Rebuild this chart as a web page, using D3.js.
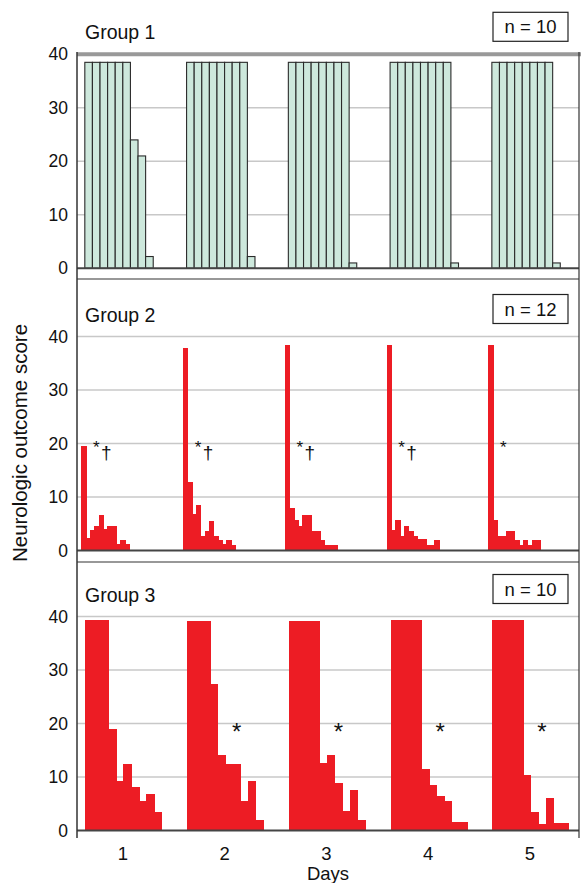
<!DOCTYPE html>
<html><head><meta charset="utf-8">
<script src="https://cdn.jsdelivr.net/npm/d3@7"></script>
<style>body{margin:0;background:#fff} text{font-family:"Liberation Sans",Arial,sans-serif;fill:#111}</style>
</head><body><svg id="c" width="581" height="883"></svg>
<script>
const days = [1, 2, 3, 4, 5];
const yTicks = [0, 10, 20, 30, 40];
const groupNames = ["Group 1", "Group 2", "Group 3"];
const groupN = ["n = 10", "n = 12", "n = 10"];
const group1Scores = [
  [38.5, 38.5, 38.5, 38.5, 38.5, 38.5, 24, 21, 2.2, 0],
  [38.5, 38.5, 38.5, 38.5, 38.5, 38.5, 38.5, 38.5, 2.2, 0],
  [38.5, 38.5, 38.5, 38.5, 38.5, 38.5, 38.5, 38.5, 1.0, 0],
  [38.5, 38.5, 38.5, 38.5, 38.5, 38.5, 38.5, 38.5, 1.0, 0],
  [38.5, 38.5, 38.5, 38.5, 38.5, 38.5, 38.5, 38.5, 1.0, 0]
];
const group2Scores = [
  [19.4, 2.3, 3.8, 4.4, 6.6, 4.0, 4.4, 4.4, 1.2, 1.8, 1.2, 0],
  [37.8, 12.7, 6.8, 8.4, 2.6, 3.5, 5.5, 2.7, 1.8, 1.2, 1.8, 1.0],
  [38.3, 7.8, 5.7, 4.5, 6.6, 6.6, 3.5, 3.5, 1.8, 1.0, 1.0, 1.0],
  [38.4, 3.8, 5.6, 2.6, 4.5, 3.6, 2.7, 2.0, 2.0, 1.0, 1.0, 1.8],
  [38.3, 5.6, 2.6, 2.6, 3.5, 3.5, 1.8, 0.9, 1.8, 0.9, 1.8, 1.8]
];
const group3Scores = [
  [39.3, 39.3, 39.3, 18.8, 9.2, 12.3, 8.0, 5.5, 6.7, 3.4],
  [39.0, 39.0, 39.0, 27.2, 14.0, 12.4, 12.4, 5.5, 9.1, 1.8],
  [39.0, 39.0, 39.0, 39.0, 12.6, 14.0, 8.8, 3.5, 7.5, 1.8],
  [39.3, 39.3, 39.3, 39.3, 11.4, 8.4, 6.3, 5.4, 1.5, 1.5],
  [39.3, 39.3, 39.3, 39.3, 10.3, 3.4, 1.2, 5.9, 1.3, 1.3]
];
const group2Marks = ["*†", "*†", "*†", "*†", "*"];
const group3Marks = ["", "*", "*", "*", "*"];

const svg = d3.select("#c");
const left = 77, right = 579;
const x = d3.scaleBand().domain(days).range([72.1, 580.9]).paddingInner(0.25).paddingOuter(0.125);

const RED = "#ed1c24";
const panels = [
  {scores: group1Scores, zero: 268.3, inner: [0, 76], fill: "#cde8dc", stroke: "#2a2a2a", sw: 1.1, crisp: false, marks: null},
  {scores: group2Scores, zero: 550.5, inner: [-3, 49], fill: RED, stroke: RED, sw: 1, crisp: true, marks: group2Marks},
  {scores: group3Scores, zero: 830.5, inner: [1, 77], fill: RED, stroke: RED, sw: 1, crisp: true, marks: group3Marks}
];
const plotH = 214;

panels.forEach((p, gi) => {
  const y = d3.scaleLinear().domain([0, 40]).range([p.zero, p.zero - plotH]);
  const g = svg.append("g");
  g.selectAll("line.grid").data(yTicks.filter(t => t > 0 && !(gi === 0 && t === 40))).enter()
    .append("line").attr("x1", left).attr("x2", right)
    .attr("y1", d => y(d)).attr("y2", d => y(d))
    .attr("stroke", "#c8c8c8").attr("stroke-width", 1.5);
  if (gi === 0) {
    g.append("line").attr("x1", left).attr("x2", 581).attr("y1", y(40)).attr("y2", y(40))
      .attr("stroke", "#999").attr("stroke-width", 4);
  }
  const n = p.scores[0].length;
  const inner = d3.scaleBand().domain(d3.range(n)).range(p.inner).padding(0);
  days.forEach((d, di) => {
    g.selectAll(null).data(p.scores[di]).enter().append("rect")
      .attr("x", (v, i) => x(d) + inner(i))
      .attr("width", inner.bandwidth())
      .attr("y", v => y(v))
      .attr("height", v => y(0) - y(v))
      .attr("fill", p.fill)
      .attr("stroke", v => v > 0 ? p.stroke : "none")
      .attr("stroke-width", p.sw)
      .attr("shape-rendering", p.crisp ? "crispEdges" : "auto");
  });
  const ax = g.append("g").attr("transform", `translate(${left},0)`)
    .call(d3.axisLeft(y).tickValues(yTicks).tickSize(0).tickPadding(9));
  ax.select(".domain").remove();
  ax.selectAll("text").attr("font-size", 17.5).style("font-family", '"Liberation Sans",Arial,sans-serif').attr("fill", "#111");
  g.append("line").attr("x1", left).attr("x2", right).attr("y1", y(0)).attr("y2", y(0))
    .attr("stroke", "#444").attr("stroke-width", 2);
  g.append("text").attr("x", 85).attr("y", p.zero - plotH - 15).attr("font-size", 19.5).text(groupNames[gi]);
  g.append("rect").attr("x", 493).attr("y", p.zero - plotH - 42).attr("width", 75).attr("height", 29)
    .attr("fill", "#fff").attr("stroke", "#222").attr("stroke-width", 1.2);
  g.append("text").attr("x", 530.5).attr("y", p.zero - plotH - 21).attr("text-anchor", "middle")
    .attr("font-size", 18.5).text(groupN[gi]);
  if (p.marks) {
    days.forEach((d, di) => {
      const m = p.marks[di];
      if (!m) return;
      const cx = x(d) + x.bandwidth() / 2;
      if (gi === 1) {
        g.append("text").attr("x", cx - 30).attr("y", y(20) + 9).attr("font-size", 17).text("*");
        if (m.includes("†")) g.append("text").attr("x", cx - 22).attr("y", y(20) + 15).attr("font-size", 19).text("†");
      } else {
        g.append("text").attr("x", cx + 12).attr("y", y(20) + 16).attr("text-anchor", "middle").attr("font-size", 24).text("*");
      }
    });
  }
});

svg.append("line").attr("x1", left).attr("x2", left).attr("y1", 52).attr("y2", 838).attr("stroke", "#333").attr("stroke-width", 1.5);
svg.append("line").attr("x1", right).attr("x2", right).attr("y1", 52).attr("y2", 838).attr("stroke", "#333").attr("stroke-width", 1.2);
[279, 562].forEach(yy => svg.append("line").attr("x1", left).attr("x2", right).attr("y1", yy).attr("y2", yy).attr("stroke", "#333").attr("stroke-width", 1.2));

svg.append("g").selectAll("text").data(days).enter().append("text")
  .attr("x", d => x(d) + x.bandwidth() / 2).attr("y", 860).attr("text-anchor", "middle")
  .attr("font-size", 18.5).text(d => d);
svg.append("text").attr("x", 328).attr("y", 880).attr("text-anchor", "middle").attr("font-size", 18.5).text("Days");
svg.append("text").attr("transform", "translate(27,443) rotate(-90)").attr("text-anchor", "middle")
  .attr("font-size", 20.5).text("Neurologic outcome score");
</script></body></html>
